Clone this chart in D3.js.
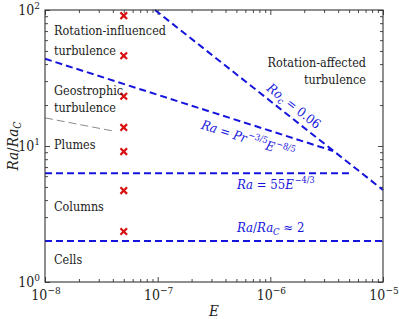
<!DOCTYPE html>
<html><head><meta charset="utf-8">
<script src="https://cdn.jsdelivr.net/npm/d3@7"></script>
<style>
html,body{margin:0;padding:0;background:#fff;}
svg{display:block;}
svg text{font-family:"DejaVu Serif Condensed","DejaVu Serif",serif;}
</style></head>
<body>
<svg id="c" width="399" height="319"></svg>
<script>
// ---- data ----
const xTicks = [1e-8, 1e-7, 1e-6, 1e-5];
const xTickExp = ["\u22128", "\u22127", "\u22126", "\u22125"];
const yTicks = [1, 10, 100];
const yTickExp = ["0", "1", "2"];

const crossE  = [5e-8, 5e-8, 5e-8, 5e-8, 5e-8, 5e-8, 5e-8];
const crossRa = [90.8, 46.1, 23.2, 13.7, 9.1, 4.7, 2.35];

const roE = [9.46e-8, 1e-5];     const roRa = [100, 4.75];
const prE = [1e-8, 3.6e-6];      const prRa = [43.8, 9.2];
const r55E = [1e-8, 5.4e-6];     const r55Ra = [6.3, 6.3];
const r2E = [1e-8, 1e-5];        const r2Ra = [2, 2];
const grayE = [1e-8, 4.0e-8];    const grayRa = [16.1, 12.9];

// ---- layout ----
const L = 45, R = 383, T = 10, B = 282;
const svg = d3.select("#c");
const x = d3.scaleLog().domain([1e-8, 1e-5]).range([L, R]);
const y = d3.scaleLog().domain([1, 100]).range([B, T]);

const blue = "#1414dc", red = "#d81010", ink = "#222";

// minor ticks
const minorX = [], minorY = [];
for (let d = -8; d < -5; d++) for (let m = 2; m <= 9; m++) minorX.push(m * Math.pow(10, d));
for (let d = 0; d < 2; d++) for (let m = 2; m <= 9; m++) minorY.push(m * Math.pow(10, d));

function ax(gen, tr, vals, size) {
  svg.append("g").attr("transform", tr)
    .call(gen.tickValues(vals).tickSize(size).tickFormat(""))
    .call(g => g.select(".domain").remove())
    .call(g => g.selectAll("line").attr("stroke", "#333").attr("stroke-width", 0.9));
}
ax(d3.axisBottom(x), `translate(0,${B})`, xTicks, -5);
ax(d3.axisBottom(x), `translate(0,${B})`, minorX, -3);
ax(d3.axisTop(x), `translate(0,${T})`, xTicks, -5);
ax(d3.axisTop(x), `translate(0,${T})`, minorX, -3);
ax(d3.axisLeft(y), `translate(${L},0)`, yTicks, -5);
ax(d3.axisLeft(y), `translate(${L},0)`, minorY, -3);
ax(d3.axisRight(y), `translate(${R},0)`, yTicks, -5);
ax(d3.axisRight(y), `translate(${R},0)`, minorY, -3);

function txt(sel) { return sel.append("text"); }

// tick labels
xTicks.forEach((v, i) => {
  const t = txt(svg).attr("x", x(v) + 1).attr("y", 300)
    .attr("text-anchor", "middle").attr("font-size", 14).attr("fill", ink);
  t.append("tspan").text("10");
  t.append("tspan").attr("dy", -6).attr("font-size", 10).text(xTickExp[i]);
});
yTicks.forEach((v, i) => {
  const t = txt(svg).attr("x", 40).attr("y", y(v) + 5)
    .attr("text-anchor", "end").attr("font-size", 14).attr("fill", ink);
  t.append("tspan").text("10");
  t.append("tspan").attr("dy", -6).attr("font-size", 10).text(yTickExp[i]);
});

// lines
const line = d3.line().x(d => x(d[0])).y(d => y(d[1]));
function dl(E, Ra, col, w, dash) {
  svg.append("path").datum(E.map((e, i) => [e, Ra[i]])).attr("d", line)
    .attr("fill", "none").attr("stroke", col).attr("stroke-width", w)
    .attr("stroke-dasharray", dash);
}
dl(grayE, grayRa, "#8a8a8a", 1, "8,4");
dl(r2E, r2Ra, blue, 2, "7,4");
dl(r55E, r55Ra, blue, 2, "7,4");
dl(prE, prRa, blue, 2, "7,4");
dl(roE, roRa, blue, 2, "7,4");

// crosses
const cs = 3.3;
crossE.forEach((e, i) => {
  const cx = x(e), cy = y(crossRa[i]);
  svg.append("path").attr("d", `M${cx-cs},${cy-cs}L${cx+cs},${cy+cs}M${cx-cs},${cy+cs}L${cx+cs},${cy-cs}`)
    .attr("stroke", red).attr("stroke-width", 2.2).attr("fill", "none");
});

// frame
svg.append("rect").attr("x", L).attr("y", T).attr("width", R - L).attr("height", B - T)
  .attr("fill", "none").attr("stroke", "#333").attr("stroke-width", 1.1);

// region labels
const reg = [
  ["Rotation-influenced", 54, 35, "start"],
  ["turbulence", 54, 55, "start"],
  ["Geostrophic", 54, 95, "start"],
  ["turbulence", 54, 112, "start"],
  ["Plumes", 54, 149, "start"],
  ["Columns", 54, 211, "start"],
  ["Cells", 54, 264, "start"],
  ["Rotation-affected", 366, 67, "end"],
  ["turbulence", 366, 84, "end"]
];
reg.forEach(r => txt(svg).attr("x", r[1]).attr("y", r[2]).attr("text-anchor", r[3])
  .attr("font-size", 12.5).attr("fill", ink).text(r[0]));

// math labels
function mathText(g, parts) {
  parts.forEach(p => {
    const s = g.append("tspan").text(p.t);
    if (p.i) s.attr("font-style", "italic");
    if (p.dy) s.attr("dy", p.dy);
    if (p.dx) s.attr("dx", p.dx);
    if (p.fs) s.attr("font-size", p.fs);
  });
}
let t;
t = txt(svg).attr("x", 237).attr("y", 189).attr("font-size", 13).attr("fill", blue);
mathText(t, [{t: "Ra", i: 1}, {t: " = 55"}, {t: "E", i: 1}, {t: "\u22124/3", dy: -6, dx: 1, fs: 9}]);

t = txt(svg).attr("x", 237).attr("y", 232).attr("font-size", 13).attr("fill", blue);
mathText(t, [{t: "Ra", i: 1}, {t: "/"}, {t: "Ra", i: 1}, {t: "C", i: 1, dy: 3, fs: 9.5}, {t: " \u2248 2", dy: -3}]);

t = txt(svg).attr("transform", "translate(294,106) rotate(38.3)")
  .attr("text-anchor", "middle").attr("dy", "0.35em").attr("font-size", 13).attr("fill", blue);
mathText(t, [{t: "Ro", i: 1}, {t: "c", i: 1, dy: 3, fs: 9.5}, {t: " = 0.06", dy: -3}]);

t = txt(svg).attr("transform", "translate(248,139) rotate(17.7)")
  .attr("text-anchor", "middle").attr("dy", "0.35em").attr("font-size", 13).attr("fill", blue);
mathText(t, [{t: "Ra", i: 1}, {t: " = "}, {t: "Pr", i: 1}, {t: "\u22123/5", dy: -6, dx: 1, fs: 9},
  {t: "E", i: 1, dy: 6}, {t: "\u22128/5", dy: -6, dx: 1, fs: 9}]);

// axis titles
txt(svg).attr("x", 214).attr("y", 316).attr("text-anchor", "middle")
  .attr("font-size", 15).attr("font-style", "italic").attr("fill", ink).text("E");
t = txt(svg).attr("transform", "translate(18,146) rotate(-90)")
  .attr("text-anchor", "middle").attr("font-size", 15).attr("fill", ink);
mathText(t, [{t: "Ra", i: 1}, {t: "/"}, {t: "Ra", i: 1}, {t: "C", i: 1, dy: 3, fs: 10.5}]);
</script>
</body></html>
